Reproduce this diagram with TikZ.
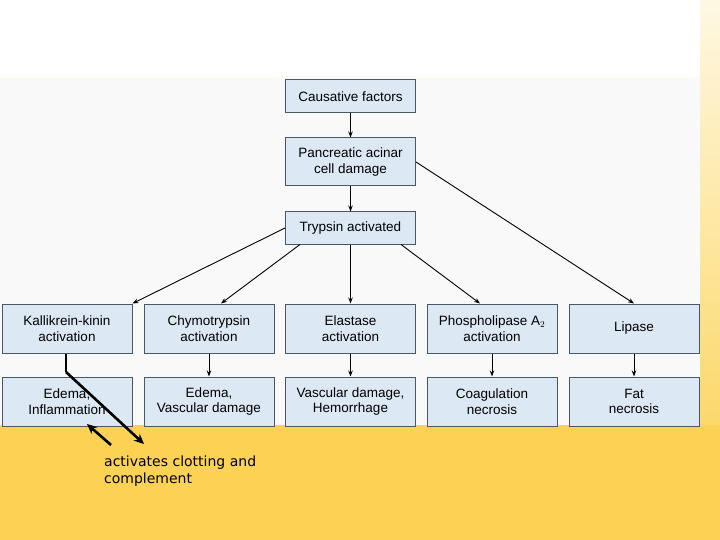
\documentclass[tikz,border=0pt]{standalone}
\usepackage{fontspec}
\setmainfont{Liberation Sans}
\newfontfamily\dvs{DejaVu Sans}
\usetikzlibrary{arrows.meta}
\definecolor{boxfill}{HTML}{DCE8F4}
\definecolor{boxline}{HTML}{4A5866}
\definecolor{bgyel}{HTML}{FBD04A}
\begin{document}
\begin{tikzpicture}[x=1pt,y=-1pt,
  box/.style={draw=boxline,line width=1pt,fill=boxfill,minimum width=130pt,align=center,
    font=\fontsize{13.5}{15.5}\selectfont,inner sep=1pt},
  ar/.style={-{Stealth[length=6pt,width=4.5pt]},line width=0.9pt},
  thick ar/.style={-{Stealth[length=10pt,width=9pt]},line width=2.6pt}]
\useasboundingbox (0,0) rectangle (720,540);
\shade[top color=white,bottom color=bgyel,middle color=white!70!bgyel] (0,0) rectangle (720,540);
\shade[top color=white!85!bgyel,bottom color=bgyel] (700,0) rectangle (720,540);
\fill[white] (0,0) rectangle (700,76);
\fill[bgyel!95!white] (0,425) rectangle (720,540);
\fill[white!95!gray] (0,78) rectangle (700,425);
\node[box,minimum height=33pt] (cf) at (350.5,96.5) {Causative factors};
\node[box,minimum height=48pt] (pa) at (350.5,162) {Pancreatic acinar\\cell damage};
\node[box,minimum height=32pt] (ta) at (350.5,228) {Trypsin activated};
\foreach \n/\x/\t in {kk/67/{Kallikrein-kinin\\activation},ch/209/{Chymotrypsin\\activation},el/350.5/{Elastase\\activation},ph/492/{Phospholipase A$_2$\\activation},li/634/{Lipase}}
  \node[box,minimum height=49pt] (\n) at (\x,328.5) {\t};
\foreach \n/\x/\t in {ed/67/{Edema,\\Inflammation},ev/209/{Edema,\\Vascular damage},vd/350.5/{Vascular damage,\\Hemorrhage},co/492/{Coagulation\\necrosis},fn/634/{Fat\\necrosis}}
  \node[box,minimum height=49pt] (\n) at (\x,401.5) {\t};
\draw[ar] (cf) -- (pa);
\draw[ar] (pa) -- (ta);
\draw[ar] (pa.east) -- (li.north);
\draw[ar] (ta.west) -- (kk.north east);
\draw[ar] (ta.south west) ++(15,0) coordinate (t1) (t1) -- ([xshift=12pt]ch.north);
\draw[ar] (ta) -- (el);
\draw[ar] ([xshift=-15pt]ta.south east) -- ([xshift=-12pt]ph.north);
\foreach \a/\b in {ch/ev,el/vd,ph/co,li/fn} \draw[ar] (\a) -- (\b);
\coordinate (k1) at (66,372);
\coordinate (k2) at (144,444);
\coordinate (k3) at (111,445);
\coordinate (k4) at (87,424);
\draw[line width=2.6pt] (kk.south -| k1) -- (k1);
\draw[thick ar] (k1) -- (k2);
\draw[thick ar] (k3) -- (k4);
\node[anchor=north west,align=left,font=\dvs\fontsize{14}{17}\selectfont,inner sep=0] (lab) at (104,456) {activates clotting and\\complement};
\end{tikzpicture}
\end{document}
